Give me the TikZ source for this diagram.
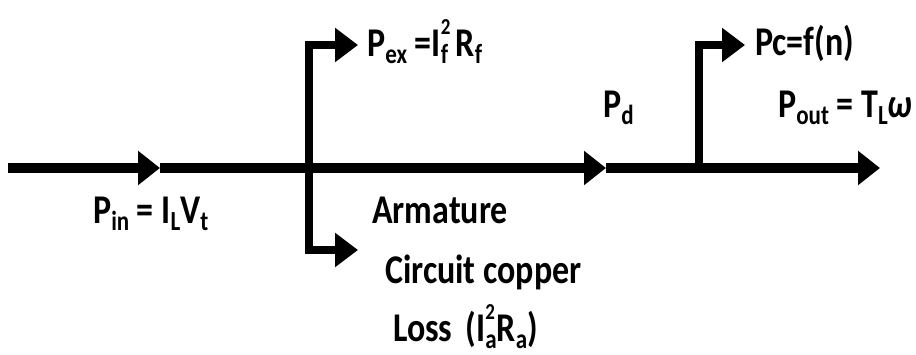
\documentclass[tikz,border=0pt]{standalone}
\usepackage{fontspec}
\setmainfont{Carlito}
\usetikzlibrary{arrows.meta}
\newcommand\vsc[1]{\scalebox{1}[1.2]{#1}}
\newcommand\sbs[1]{\raisebox{-6pt}{\fontsize{23}{24}\selectfont #1}}
\newcommand\sps[1]{\raisebox{18pt}{\fontsize{19}{20}\selectfont #1}}
\newcommand\supsub[2]{\rlap{\sps{#1}}\sbs{#2}}
\begin{document}
\begin{tikzpicture}[x=1pt,y=-1pt,
  lbl/.style={anchor=base west, inner sep=0pt, font=\fontsize{34}{40}\selectfont\bfseries},
  mainln/.style={line width=10pt, -{Triangle[width=33pt,length=22pt]}},
  branchln/.style={line width=8pt, line join=miter, -{Triangle[width=33pt,length=23pt]}}]
\useasboundingbox (0,0) rectangle (916,354);
% main line
\coordinate (s) at (8,168);
\coordinate (a1) at (160,168);
\coordinate (j1) at (309,168);
\coordinate (a2) at (606,168);
\coordinate (j2) at (699,168);
\coordinate (e) at (880,168);
\draw[mainln] (s) -- (a1);
\draw[mainln] (a1) -- (a2);
\draw[mainln] (a2) -- (e);
% branches
\coordinate (p1) at (358,45);
\coordinate (p2) at (358,250);
\coordinate (p3) at (745,45);
\draw[branchln] (j1) |- (p1);
\draw[branchln] (j1) |- (p2);
\draw[branchln] (j2) |- (p3);
% labels
\node[lbl] (pex) at (367,56) {\vsc{P\sbs{ex} =I\supsub{2}{f}\ R\sbs{f}}};
\node[lbl] (pc) at (755,55) {\vsc{Pc=f(n)}};
\node[lbl] (pd) at (603,117) {\vsc{P\sbs{d}}};
\node[lbl] (pout) at (778,117) {\vsc{P\sbs{out} = T\sbs{L}\textit{ω}}};
\node[lbl] (pin) at (93,223) {\vsc{P\sbs{in} = I\sbs{L}V\sbs{t}}};
\node[lbl] (arm) at (372,223) {\vsc{Armature}};
\node[lbl] (cc) at (385,283) {\vsc{Circuit copper}};
\node[lbl] (loss) at (393,341) {\vsc{Loss\, (I\supsub{2}{a}R\sbs{a})}};
\end{tikzpicture}
\end{document}
